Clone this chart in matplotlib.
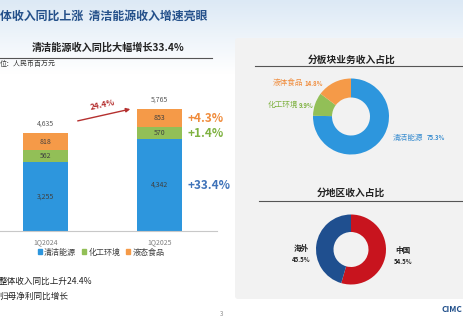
import numpy as np
import matplotlib
matplotlib.use("Agg")
import matplotlib.pyplot as plt
from matplotlib.patches import FancyBboxPatch, Patch
from matplotlib.colors import LinearSegmentedColormap

plt.rcParams['font.family'] = ['Noto Sans CJK SC', 'DejaVu Sans']

# ---- data ----
periods = ["1Q2024", "1Q2025"]
segments = ["清洁能源", "化工环境", "液态食品"]
clean_energy = [3255, 4342]
chem_env = [562, 570]
liquid_food = [818, 853]
segment_growth = ["+33.4%", "+1.4%", "+4.3%"]
total_growth = "24.4%"

pie_segments = ["清洁能源", "化工环境", "液体食品"]
pie_shares = [75.3, 9.9, 14.8]
regions = ["中国", "海外"]
region_shares = [54.5, 45.5]

# ---- style ----
W, H = 463, 326
BLUE, GREEN, ORANGE = "#2D96DD", "#92BF57", "#F59A48"
RED, NAVY = "#C8141E", "#1F4F8F"
TITLE_C = "#24508A"

fig = plt.figure(figsize=(W / 100, H / 100), dpi=100)

# background canvas in pixel units
bg = fig.add_axes([0, 0, 1, 1])
bg.set_xlim(0, W)
bg.set_ylim(H, 0)
bg.axis("off")
grad = LinearSegmentedColormap.from_list("sky", ["#DCE9F5", "#EEF4FA", "#FFFFFF", "#FFFFFF"])
bg.imshow(np.linspace(0, 1, 200).reshape(-1, 1), cmap=grad, aspect="auto",
          extent=(0, W, 110, 0), zorder=0)
bg.add_patch(plt.Rectangle((0, 110), W, H - 110, color="white", zorder=0))
bg.add_patch(FancyBboxPatch((235, 38), 240, 261, boxstyle="round,pad=0,rounding_size=3",
                            fc="#F2F2F2", ec="none", zorder=1))


def px_axes(x0, y0, x1, y1):
    return fig.add_axes([x0 / W, 1 - y1 / H, (x1 - x0) / W, (y1 - y0) / H])


# headings
bg.text(0, 16, "体收入同比上涨  清洁能源收入增速亮眼", fontsize=8.6, fontweight="bold",
        color=TITLE_C, va="center", ha="left", zorder=3)
bg.text(108, 48, "清洁能源收入同比大幅增长33.4%", fontsize=7.3, fontweight="bold",
        color="#222222", va="center", ha="center", zorder=3)
bg.plot([0, 212], [58, 58], color="#555555", lw=0.8, zorder=3)
bg.text(0, 64, "位：人民币百万元", fontsize=5, color="#333333", va="center", ha="left", zorder=3)

# ---- stacked bars ----
ax = px_axes(0, 70, 217, 231)
x = np.arange(len(periods))
clean = np.array(clean_energy)
chem = np.array(chem_env)
food = np.array(liquid_food)
bw = 45 / 114
ax.bar(x, clean, bw, color=BLUE)
ax.bar(x, chem, bw, bottom=clean, color=GREEN)
ax.bar(x, food, bw, bottom=clean + chem, color=ORANGE)
ax.set_xlim(-45.5 / 114, (217 - 45.5) / 114)
ax.set_ylim(0, 7615)
ax.patch.set_alpha(0)
for s in ["top", "right", "left"]:
    ax.spines[s].set_visible(False)
ax.spines["bottom"].set_color("#C8C8C8")
ax.spines["bottom"].set_linewidth(0.8)
ax.set_yticks([])
ax.set_xticks(x)
ax.set_xticklabels(periods, fontsize=5, color="#7F7F7F")
ax.tick_params(axis="x", length=0, pad=5)

totals = clean + chem + food
for i in range(len(periods)):
    ax.text(x[i], clean[i] / 2, f"{clean[i]:,}", ha="center", va="center", fontsize=5, color="#404040")
    ax.text(x[i], clean[i] + chem[i] / 2, f"{chem[i]:,}", ha="center", va="center", fontsize=5, color="#404040")
    ax.text(x[i], clean[i] + chem[i] + food[i] / 2, f"{food[i]:,}", ha="center", va="center",
            fontsize=5, color="#404040")
    ax.text(x[i], totals[i] + 430, f"{totals[i]:,}", ha="center", va="center", fontsize=5, color="#595959")

# growth labels beside the latest bar
gx = 1 + (187 - 159.5) / 114
growth_cols = ["#3F73B9", "#7FB241", "#F08C3C"]
mids = [clean[1] / 2, clean[1] + chem[1] / 2, clean[1] + chem[1] + food[1] / 2]
for g, m, c in zip(segment_growth, mids, growth_cols):
    ax.text(gx, m, g, ha="left", va="center", fontsize=8.5, fontweight="bold", color=c)

# overall growth arrow
bg.annotate("", xy=(133, 108.5), xytext=(75, 121.5),
            arrowprops=dict(arrowstyle="-|>", color="#B5302F", lw=1.0, mutation_scale=6), zorder=4)
bg.text(103, 105, total_growth, rotation=12, fontsize=6, fontweight="bold", color="#B5302F",
        ha="center", va="center", zorder=4)

fig.legend([Patch(color=BLUE), Patch(color=GREEN), Patch(color=ORANGE)], segments,
           loc="center", bbox_to_anchor=(101 / W, 1 - 252 / H), ncol=3, frameon=False,
           fontsize=5.8, handlelength=0.55, handleheight=0.55, handletextpad=0.25,
           columnspacing=0.7, labelcolor="#404040")

# bottom notes
bg.text(-1, 281, "整体收入同比上升24.4%", fontsize=6.2, color="#222222", va="center", ha="left", zorder=3)
bg.text(-1, 296, "归母净利同比增长", fontsize=6.2, color="#222222", va="center", ha="left", zorder=3)
bg.text(222, 314, "3", fontsize=4.5, color="#8C8C8C", va="center", ha="center", zorder=3)
bg.text(441, 309, "CIMC", fontsize=6, fontweight="bold", color="#1F4E8A", va="center", ha="left",
        zorder=3)

# ---- segment donut ----
bg.text(352, 60, "分板块业务收入占比", fontsize=7, fontweight="bold", color="#222222",
        ha="center", va="center", zorder=3)
bg.plot([255, 462], [65.5, 65.5], color="#555555", lw=0.8, zorder=3)
cx, cy, r = 351, 116.5, 38
pa = px_axes(cx - r, cy - r, cx + r, cy + r)
pa.pie(pie_shares, colors=[BLUE, GREEN, ORANGE], startangle=90, counterclock=False,
       wedgeprops=dict(width=0.5, edgecolor="none"))
pa.set_xlim(-1, 1)
pa.set_ylim(-1, 1)

# (name left x, percent left x, y)
pie_label_pos = [(393, 427, 138), (268, 299, 105), (273, 304, 83)]
pie_cols = ["#3B8ED0", "#7FB241", "#F08C3C"]
for name, share, (nx, px_, ly), c in zip(pie_segments, pie_shares, pie_label_pos, pie_cols):
    bg.text(nx, ly, name, fontsize=5.5, color=c, ha="left", va="center", zorder=3)
    bg.text(px_, ly, f"{share}%", fontsize=4.3, fontweight="bold", color=c,
            ha="left", va="center", zorder=3)

# ---- region donut ----
bg.text(351, 193, "分地区收入占比", fontsize=7, fontweight="bold", color="#222222",
        ha="center", va="center", zorder=3)
bg.plot([259, 462], [201, 201], color="#555555", lw=0.8, zorder=3)
cx2, cy2, r2 = 351, 249.5, 35
pb = px_axes(cx2 - r2, cy2 - r2, cx2 + r2, cy2 + r2)
pb.pie(region_shares, colors=[RED, NAVY], startangle=90, counterclock=False,
       wedgeprops=dict(width=0.5, edgecolor="none"))
pb.set_xlim(-1, 1)
pb.set_ylim(-1, 1)

region_pos = [(403, 250), (301, 248)]
for name, share, (lx, ly) in zip(regions, region_shares, region_pos):
    bg.text(lx, ly, name, fontsize=5.5, fontweight="bold", color="#222222",
            ha="center", va="center", zorder=3)
    bg.text(lx, ly + 11.5, f"{share}%", fontsize=4.3, fontweight="bold", color="#222222",
            ha="center", va="center", zorder=3)

fig.savefig("out.png", dpi=100)
